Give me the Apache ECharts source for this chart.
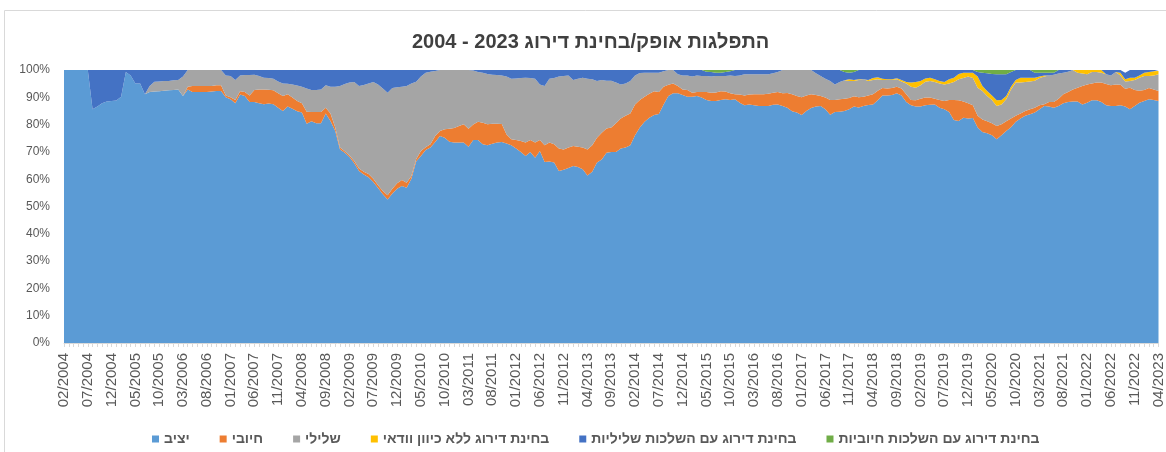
<!DOCTYPE html>
<html>
<head>
<meta charset="utf-8">
<script src="https://cdn.jsdelivr.net/npm/echarts@6/dist/echarts.min.js"></script>
<style>
    body {margin: 0; background: #fff;}
    #chart {width: 1166px; height: 452px;}
</style>
</head>
<body>
<div id="chart"></div>
<script>
    // חודשים 02/2004 - 04/2023
    var months = [];
    var yy = 2004, mm = 2;
    while (months.length < 231) {
        months.push((mm < 10 ? '0' + mm : '' + mm) + '/' + yy);
        mm++;
        if (mm > 12) { mm = 1; yy++; }
    }

    var names = ['יציב', 'חיובי', 'שלילי', 'בחינת דירוג ללא כיוון וודאי', 'בחינת דירוג עם השלכות שליליות', 'בחינת דירוג עם השלכות חיוביות'];
    var colors = ['#5B9BD5', '#ED7D31', '#A5A5A5', '#FFC000', '#4472C4', '#70AD47'];

    var stable = [
        100, 100, 100, 100, 100, 100, 85.6, 86.6, 87.8, 88.5,
        88.6, 88.8, 90.2, 99.3, 98.0, 95.1, 95.1, 91.1, 91.9, 92.1,
        92.2, 92.4, 92.6, 92.7, 92.9, 90.5, 92.9, 91.9, 91.9, 91.9,
        91.9, 92.1, 92.3, 92.3, 90.0, 89.3, 87.8, 91.0, 90.5, 88.3,
        88.3, 87.8, 87.5, 87.7, 87.5, 86.2, 85.0, 86.6, 85.8, 84.9,
        84.4, 80.3, 81.2, 80.5, 80.5, 84.1, 81.3, 77.7, 70.9, 69.7,
        68.1, 65.8, 63.0, 61.7, 60.7, 59.0, 56.8, 54.5, 52.6, 54.8,
        56.5, 57.5, 56.9, 60.2, 66.5, 68.5, 70.7, 71.6, 73.6, 75.8,
        75.2, 73.7, 73.4, 73.4, 73.4, 71.9, 74.4, 74.4, 72.8, 72.4,
        73.0, 73.4, 73.6, 73.1, 72.4, 71.2, 70.0, 68.5, 70.0, 67.9,
        70.3, 66.3, 66.5, 66.1, 63.0, 63.5, 64.1, 64.8, 64.5, 63.6,
        61.4, 62.7, 66.1, 67.2, 69.7, 70.0, 70.0, 71.2, 71.6, 72.4,
        76.1, 78.9, 81.0, 82.5, 83.5, 83.9, 87.4, 90.5, 91.5, 91.5,
        90.8, 90.2, 90.2, 90.5, 89.9, 89.0, 88.6, 88.6, 89.0, 89.3,
        89.0, 89.3, 88.0, 87.1, 87.4, 87.1, 86.8, 86.8, 86.8, 87.3,
        87.4, 86.8, 86.2, 84.9, 84.4, 83.5, 85.0, 86.1, 86.6, 86.8,
        85.6, 83.6, 84.6, 84.7, 85.0, 85.6, 86.6, 86.3, 86.8, 87.2,
        87.4, 88.9, 90.7, 90.7, 90.8, 91.5, 90.7, 88.3, 87.1, 86.6,
        86.6, 87.1, 87.3, 87.4, 86.2, 85.6, 84.6, 81.7, 81.3, 82.5,
        82.2, 82.4, 78.9, 77.3, 76.8, 76.1, 74.6, 76.1, 77.7, 79.0,
        81.0, 82.2, 83.2, 83.8, 84.4, 85.6, 86.8, 86.6, 86.2, 86.8,
        87.8, 88.3, 88.5, 88.5, 87.4, 88.0, 88.9, 88.9, 88.3, 87.1,
        86.8, 86.8, 87.1, 86.6, 85.6, 86.8, 88.0, 88.6, 89.3, 89.0,
        88.6
    ];
    var positive = [
        0, 0, 0, 0, 0, 0, 0, 0, 0, 0,
        0, 0, 0, 0, 0, 0, 0, 0, 0, 0,
        0, 0, 0, 0, 0, 0, 1.0, 2.2, 2.2, 2.2,
        2.2, 2.0, 2.1, 2.1, 0.7, 0.7, 1.2, 1.2, 1.4, 2.4,
        4.4, 5.1, 5.4, 5.1, 5.1, 5.3, 5.5, 4.5, 4.1, 3.7,
        3.4, 4.4, 3.4, 4.1, 4.1, 2.1, 2.8, 1.2, 0.7, 0.5,
        0.6, 0.9, 0.9, 1.0, 1.2, 1.2, 1.0, 1.2, 1.5, 1.7,
        2.0, 2.2, 1.8, 1.0, 0.8, 1.8, 1.0, 1.2, 2.2, 1.9,
        3.1, 4.8, 5.4, 6.1, 6.7, 6.6, 5.6, 6.6, 7.9, 7.7,
        7.3, 6.9, 6.6, 3.3, 2.2, 3.2, 4.0, 4.9, 4.4, 5.5,
        4.1, 6.1, 6.9, 6.7, 8.2, 7.4, 7.5, 7.4, 7.4, 8.0,
        9.5, 9.7, 9.1, 9.8, 8.9, 8.9, 10.5, 11.0, 11.6, 11.7,
        11.3, 10.1, 9.2, 8.8, 8.7, 8.0, 6.5, 4.1, 3.6, 2.6,
        2.1, 2.5, 1.5, 1.4, 2.0, 2.9, 3.1, 3.2, 3.2, 2.8,
        2.5, 1.8, 3.0, 3.6, 3.6, 4.0, 4.3, 4.3, 4.5, 4.4,
        4.5, 4.7, 5.4, 6.2, 6.1, 6.5, 5.7, 5.0, 4.2, 3.7,
        4.3, 5.4, 4.4, 4.6, 4.5, 4.1, 3.8, 3.7, 3.4, 3.5,
        3.7, 3.5, 2.7, 2.5, 2.6, 2.4, 2.5, 2.8, 1.9, 2.3,
        2.9, 2.8, 2.6, 2.1, 2.8, 3.0, 4.4, 7.3, 7.6, 6.0,
        5.6, 4.7, 4.3, 4.6, 4.4, 4.4, 4.9, 4.0, 3.5, 3.2,
        2.2, 1.9, 1.8, 1.8, 1.8, 1.5, 0.7, 1.7, 2.1, 2.7,
        3.3, 3.6, 4.4, 5.0, 6.7, 6.7, 6.2, 6.5, 7.1, 7.8,
        7.6, 7.9, 7.5, 6.5, 7.9, 5.9, 4.4, 4.1, 4.1, 3.9,
        3.7
    ];
    var negative = [
        0, 0, 0, 0, 0, 0, 0, 0, 0, 0,
        0, 0, 0, 0, 0, 0, 0, 0, 2.2, 3.6,
        3.6, 3.6, 3.4, 3.5, 3.4, 7.1, 6.1, 5.9, 5.9, 5.9,
        5.9, 5.9, 5.6, 5.6, 7.3, 7.8, 7.3, 5.8, 6.3, 7.5,
        5.6, 4.9, 4.3, 4.3, 4.2, 4.3, 4.6, 3.9, 4.8, 5.7,
        6.1, 8.5, 8.1, 8.1, 8.3, 8.2, 9.8, 15.0, 22.5, 24.7,
        26.7, 28.9, 30.2, 31.8, 33.2, 35.4, 36.9, 37.5, 37.6, 36.9,
        35.2, 34.2, 35.4, 33.9, 28.4, 27.3, 27.3, 26.6, 23.8, 22.3,
        21.7, 21.5, 21.2, 20.5, 19.9, 21.5, 19.8, 18.3, 18.3, 18.4,
        18.0, 17.9, 17.8, 21.2, 22.2, 22.5, 23.1, 23.8, 22.7, 23.4,
        20.3, 21.7, 23.4, 24.3, 26.4, 26.9, 26.4, 24.1, 24.9, 25.6,
        25.9, 24.2, 20.8, 19.3, 17.5, 17.2, 14.9, 12.5, 11.9, 11.9,
        10.6, 9.9, 8.8, 7.7, 6.8, 7.1, 5.6, 5.4, 4.9, 4.3,
        5.1, 5.3, 5.9, 6.1, 5.9, 5.9, 5.9, 6.0, 5.6, 5.7,
        6.5, 6.7, 7.0, 7.7, 7.4, 7.3, 7.3, 7.3, 7.1, 7.1,
        7.4, 8.5, 8.4, 8.9, 9.5, 10.0, 9.3, 8.9, 8.0, 7.3,
        6.9, 7.0, 5.7, 6.3, 6.7, 6.3, 5.6, 6.3, 6.4, 5.3,
        5.2, 4.2, 2.9, 3.1, 2.9, 2.7, 2.6, 4.0, 4.9, 4.6,
        4.9, 5.8, 6.1, 6.1, 6.1, 6.1, 6.1, 6.6, 7.7, 8.6,
        9.8, 10.0, 10.3, 10.4, 9.3, 8.5, 7.3, 7.3, 8.1, 10.7,
        12.2, 11.3, 10.6, 10.2, 9.9, 10.0, 10.1, 9.7, 10.0, 9.2,
        7.9, 7.5, 7.1, 5.5, 4.6, 3.7, 4.2, 3.9, 3.6, 3.5,
        3.6, 4.6, 3.4, 2.7, 2.5, 3.6, 4.8, 5.1, 4.4, 5.1,
        6.1
    ];
    var reviewNoDir = [
        0, 0, 0, 0, 0, 0, 0, 0, 0, 0,
        0, 0, 0, 0, 0, 0, 0, 0, 0, 0,
        0, 0, 0, 0, 0, 0, 0, 0, 0, 0,
        0, 0, 0, 0, 0, 0, 0, 0, 0, 0,
        0, 0, 0, 0, 0, 0, 0, 0, 0, 0,
        0, 0, 0, 0, 0, 0, 0, 0, 0, 0,
        0, 0, 0, 0, 0, 0, 0, 0, 0, 0,
        0, 0, 0, 0, 0, 0, 0, 0, 0, 0,
        0, 0, 0, 0, 0, 0, 0, 0, 0, 0,
        0, 0, 0, 0, 0, 0, 0, 0, 0, 0,
        0, 0, 0, 0, 0, 0, 0, 0, 0, 0,
        0, 0, 0, 0, 0, 0, 0, 0, 0, 0,
        0, 0, 0, 0, 0, 0, 0, 0, 0, 0,
        0, 0, 0, 0, 0, 0, 0, 0, 0, 0,
        0, 0, 0, 0, 0, 0, 0, 0, 0, 0,
        0, 0, 0, 0, 0, 0, 0, 0, 0, 0,
        0, 0, 0, 0, 0, 0.6, 0.3, 0.3, 0, 0.3,
        0.8, 0.7, 0.5, 0.3, 0.3, 0.4, 0.5, 0.5, 1.5, 2.1,
        1.6, 1.2, 1.2, 1.0, 0.9, 0.9, 1.5, 1.6, 1.9, 1.9,
        1.4, 1.9, 4.1, 1.8, 1.8, 1.7, 2.1, 1.6, 1.2, 1.0,
        0.9, 1.8, 1.6, 1.4, 1.1, 0.5, 0.4, 0, 0, 0,
        0, 0, 0, 1.0, 1.3, 1.6, 0.7, 0.7, 1.0, 0,
        0, 0, 1.0, 0.8, 1.2, 0.9, 0.8, 1.2, 1.5, 1.5,
        1.2
    ];
    var reviewNeg = [
        0, 0, 0, 0, 0, 0, 14.4, 13.4, 12.2, 11.5,
        11.4, 11.2, 9.8, 0.7, 2.0, 4.9, 4.9, 8.9, 5.9, 4.3,
        4.2, 4.0, 4.0, 3.8, 3.7, 2.4, 0, 0, 0, 0,
        0, 0, 0, 0, 2.0, 2.2, 3.7, 2.0, 1.8, 1.8,
        1.7, 2.2, 2.8, 2.9, 3.2, 4.2, 4.9, 5.0, 5.3, 5.7,
        6.1, 6.8, 7.3, 7.3, 7.1, 5.6, 6.1, 6.1, 5.9, 5.1,
        4.6, 4.4, 5.9, 5.5, 4.9, 4.4, 5.3, 6.8, 8.3, 6.6,
        6.3, 6.1, 5.9, 4.9, 4.3, 2.4, 1.0, 0.6, 0.4, 0,
        0, 0, 0, 0, 0, 0, 0.2, 0.7, 1.0, 1.5,
        1.7, 1.8, 2.0, 2.4, 3.2, 3.1, 2.9, 2.8, 2.9, 3.2,
        5.3, 5.9, 3.2, 2.9, 2.4, 2.2, 2.0, 3.7, 3.2, 2.8,
        3.2, 3.4, 4.0, 3.7, 3.9, 3.9, 4.6, 5.3, 4.9, 4.0,
        2.0, 1.1, 1.0, 1.0, 1.0, 1.0, 0.5, 0, 0, 1.6,
        2.0, 2.0, 2.4, 2.0, 2.2, 1.6, 1.7, 1.2, 1.2, 1.5,
        1.5, 2.2, 2.0, 1.6, 1.6, 1.6, 1.6, 1.6, 1.6, 1.2,
        0.7, 0, 0, 0, 0, 0, 0, 0, 1.2, 2.2,
        3.2, 4.0, 5.3, 4.4, 3.1, 2.4, 3.0, 3.4, 3.4, 3.7,
        2.9, 2.7, 3.2, 3.4, 3.4, 3.0, 3.7, 4.4, 4.6, 4.4,
        4.0, 3.1, 2.8, 3.4, 4.0, 4.4, 3.4, 2.8, 1.5, 1.0,
        1.0, 1.0, 1.7, 4.9, 6.5, 7.8, 9.5, 9.4, 7.9, 5.4,
        3.7, 2.8, 2.8, 2.8, 1.8, 1.4, 1.0, 1.0, 0.7, 1.3,
        1.0, 0.6, 0, 0, 0, 0, 0, 0, 0, 1.6,
        2.0, 0.7, 1.0, 2.4, 2.8, 2.8, 2.0, 1.0, 0.7, 0.5,
        0.4
    ];
    var reviewPos = [
        0, 0, 0, 0, 0, 0, 0, 0, 0, 0,
        0, 0, 0, 0, 0, 0, 0, 0, 0, 0,
        0, 0, 0, 0, 0, 0, 0, 0, 0, 0,
        0, 0, 0, 0, 0, 0, 0, 0, 0, 0,
        0, 0, 0, 0, 0, 0, 0, 0, 0, 0,
        0, 0, 0, 0, 0, 0, 0, 0, 0, 0,
        0, 0, 0, 0, 0, 0, 0, 0, 0, 0,
        0, 0, 0, 0, 0, 0, 0, 0, 0, 0,
        0, 0, 0, 0, 0, 0, 0, 0, 0, 0,
        0, 0, 0, 0, 0, 0, 0, 0, 0, 0,
        0, 0, 0, 0, 0, 0, 0, 0, 0, 0,
        0, 0, 0, 0, 0, 0, 0, 0, 0, 0,
        0, 0, 0, 0, 0, 0, 0, 0, 0, 0,
        0, 0, 0, 0, 0, 0.6, 0.7, 1.0, 1.0, 0.7,
        0.5, 0, 0, 0, 0, 0, 0, 0, 0, 0,
        0, 0, 0, 0, 0, 0, 0, 0, 0, 0,
        0, 0, 0, 0, 0.7, 1.0, 0.7, 0, 0, 0,
        0, 0, 0, 0, 0, 0, 0, 0, 0, 0,
        0, 0, 0, 0, 0, 0, 0, 0, 0, 0,
        0, 0, 0.7, 1.0, 1.2, 1.5, 1.6, 1.6, 1.6, 0.7,
        0, 0, 0, 0, 1.0, 1.0, 1.0, 1.0, 1.0, 0,
        0, 0, 0, 0, 0, 0, 0, 0, 0, 0,
        0, 0, 0, 0, 0, 0, 0, 0, 0, 0,
        0
    ];

    var seriesData = [stable, positive, negative, reviewNoDir, reviewNeg, reviewPos];

    var chart = echarts.init(document.getElementById('chart'));
    var option = {
        animation: false,
        color: colors,
        title: {
            // RLE ... PDF: הכותרת נכתבת מימין לשמאל
            text: '\u202B' + 'התפלגות אופק/בחינת דירוג 2023 - 2004' + '\u202C',
            left: 407,
            top: 27,
            textStyle: {
                fontFamily: 'Liberation Sans',
                fontSize: 20,
                fontWeight: 'bold',
                color: '#404040'
            }
        },
        legend: {
            data: names,
            left: 147,
            top: 427,
            icon: 'rect',
            itemWidth: 7,
            itemHeight: 7,
            itemGap: 30,
            textStyle: {
                fontFamily: 'Liberation Sans',
                fontSize: 14,
                fontWeight: 'bold',
                color: '#595959'
            }
        },
        grid: {
            left: 64,
            right: 4,
            top: 70,
            bottom: 109
        },
        xAxis: {
            type: 'category',
            data: months,
            boundaryGap: false,
            axisLine: {lineStyle: {color: '#d9d9d9'}},
            axisTick: {show: true, interval: 0, length: 4, lineStyle: {color: '#d9d9d9'}},
            axisLabel: {
                interval: 4,
                rotate: 90,
                margin: 10,
                fontFamily: 'Liberation Sans',
                fontSize: 15,
                color: '#595959'
            }
        },
        yAxis: {
            type: 'value',
            min: 0,
            max: 100,
            interval: 10,
            axisLine: {show: false},
            axisTick: {show: false},
            splitLine: {show: false},
            axisLabel: {
                formatter: '{value}%',
                margin: 14,
                fontFamily: 'Liberation Sans',
                fontSize: 12,
                color: '#595959'
            }
        },
        graphic: [{
            type: 'rect',
            shape: {x: 4.5, y: 10.5, width: 1180, height: 460},
            style: {fill: 'none', stroke: '#d9d9d9', lineWidth: 1},
            silent: true
        }],
        series: names.map(function (n, i) {
            return {
                name: n,
                type: 'line',
                stack: 'total',
                data: seriesData[i],
                symbol: 'none',
                lineStyle: {width: 0},
                areaStyle: {color: colors[i], opacity: 1},
                emphasis: {disabled: true}
            };
        })
    };
    chart.setOption(option);
</script>
</body>
</html>
